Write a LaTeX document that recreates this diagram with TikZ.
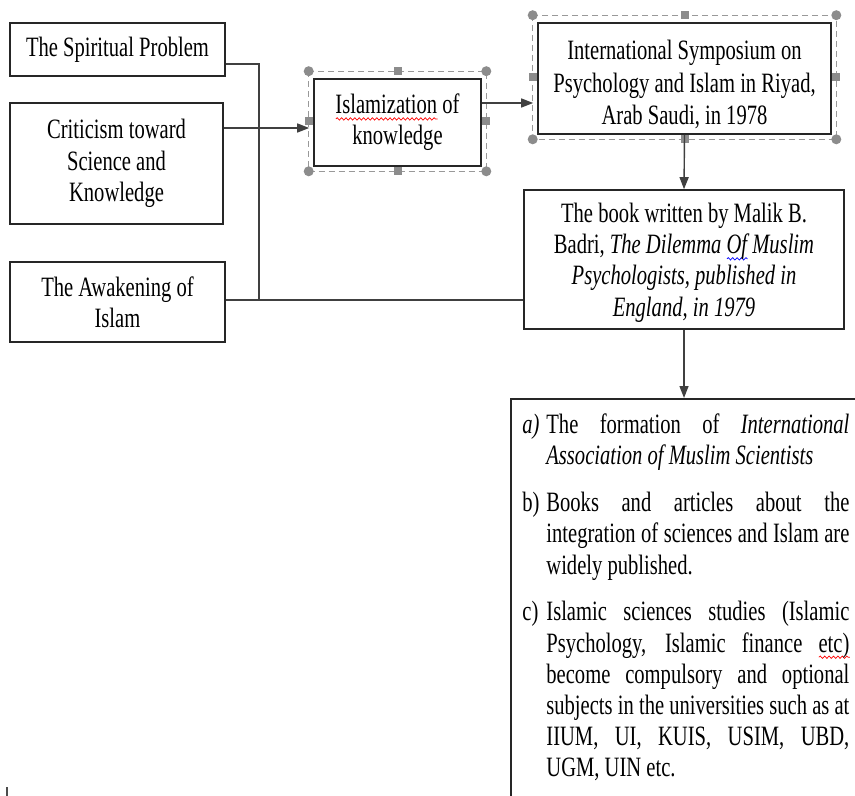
\documentclass[tikz,border=0pt]{standalone}
\usepackage{fontspec}
\setmainfont[FakeStretch=0.735]{Liberation Serif}
\usetikzlibrary{decorations.pathmorphing}
\usetikzlibrary{positioning}
\usetikzlibrary{calc}
\usetikzlibrary{arrows.meta}

% spell-check wave under a word
\newsavebox{\wavebox}
\newlength{\wavelen}
\newcommand{\wavy}[2]{\sbox{\wavebox}{#2}\setlength{\wavelen}{\wd\wavebox}%
  \rlap{\tikz[baseline=0pt]\draw[#1, line width=0.35pt, decorate, decoration={snake, amplitude=0.6pt, segment length=2.2pt}] (0pt,-2.6pt) -- (\wavelen,-2.6pt);}\usebox{\wavebox}}

% dashed frame with grab handles round a selected box
\newcommand{\selhandles}[1]{%
  \path ([shift={(-2.25pt,3.5pt)}]#1.north west) coordinate (#1nw)
        ([shift={(2.25pt,-2.25pt)}]#1.south east) coordinate (#1se);
  \draw[selframe] (#1nw) rectangle (#1se);
  \foreach \hp in {(#1nw), (#1se), (#1nw -| #1se), (#1nw |- #1se)}
    \fill[handlecol] \hp circle (2.5pt);
  \foreach \hp in {($(#1nw)!.5!(#1nw -| #1se)$), ($(#1nw |- #1se)!.5!(#1se)$),
                   ($(#1nw)!.5!(#1nw |- #1se)$), ($(#1nw -| #1se)!.5!(#1se)$)}
    \node[sqhandle] at \hp {};
}

\begin{document}
\begin{tikzpicture}[x=0.5pt, y=-0.5pt,
  every node/.style={font=\fontsize{14}{15.6}\selectfont},
  box/.style={draw=black!85, line width=0.8pt, inner sep=0pt, align=center},
  link/.style={draw=black!75, line width=0.7pt},
  arr/.style={link, -{Triangle[length=6pt, width=4.5pt]}},
  selframe/.style={draw=black!40, densely dashed, line width=0.4pt},
  handlecol/.style={fill=black!45},
  sqhandle/.style={rectangle, fill=black!45, inner sep=0pt, minimum size=4pt}]

  \useasboundingbox (0,0) rectangle (855,796);
  \clip (0,0) rectangle (855,796);

  % the three causes
  \node[box, minimum width=107.5pt, minimum height=26.5pt] (spirit) at (117.5,49.5) {The Spiritual Problem};
  \node[box, minimum width=106.5pt, minimum height=60.5pt] (critic) at (116.5,163.5) {Criticism toward\\ Science and\\ Knowledge};
  \node[box, minimum width=107.5pt, minimum height=40pt] (awaken) at (117.5,302) {The Awakening of\\ Islam};

  \node[box, minimum width=83.5pt, minimum height=43.5pt] (islam) at (397.5,122.5) {\wavy{red}{Islamization} of\\ knowledge};
  \node[box, minimum width=146.5pt, minimum height=55.5pt] (sympo) at (684.5,78.5) {};
  \node[align=center, inner sep=0pt, font=\fontsize{14}{16.2}\selectfont] (sympotext) at ($(sympo)+(0,6)$) {International Symposium on\\ Psychology and Islam in Riyad,\\ Arab Saudi, in 1978};
  \node[box, minimum width=160pt, minimum height=69.5pt] (book) at (684,259.5) {};
  \node[align=center, inner sep=0pt] (booktext) at ($(book)+(0,3)$) {The book written by Malik B.\\ Badri, {\itshape The Dilemma \wavy{blue}{Of} Muslim}\\ {\itshape Psychologists, published in}\\ {\itshape England, in 1979}};

  \selhandles{islam}
  \selhandles{sympo}

  % outcomes
  \node[draw=black!85, line width=0.8pt, anchor=north west, minimum width=250pt, minimum height=250pt] (effects) at (510,398) {};
  \node[anchor=north west, inner sep=0pt] (items) at (522,413.5) {\begin{minipage}[t]{163.5pt}
    \setlength{\parindent}{0pt}\setlength{\parskip}{7.8pt}%
    \hangindent=12pt\hangafter=1\makebox[12pt][l]{\textit{a)}}The formation of \textit{International}\linebreak
    \textit{Association of Muslim Scientists}\par
    \hangindent=12pt\hangafter=1\makebox[12pt][l]{b)}Books and articles about the\linebreak
    integration of sciences and Islam are\linebreak widely published.\par
    \hangindent=12pt\hangafter=1\makebox[12pt][l]{c)}Islamic sciences studies (Islamic\linebreak
    Psychology, Islamic finance \wavy{red}{etc)}\linebreak become compulsory and optional\linebreak
    subjects in the universities such as at\linebreak IIUM, UI, KUIS, USIM, UBD,\linebreak UGM, UIN etc.\par
  \end{minipage}};

  % connectors
  \coordinate (busT) at (259,64);
  \coordinate (busB) at (259,300);
  \coordinate (lvlA) at (0,128);
  \coordinate (lvlB) at (0,103);
  \draw[link] (spirit.east |- busT) -- (busT) -- (busB);
  \draw[link] (awaken.east |- busB) -- (busB -| book.west);
  \draw[arr] (critic.east |- lvlA) -- ($(islam.west |- lvlA)+(-2pt,0)$);
  \draw[arr] (islam.east |- lvlB) -- ($(sympo.west |- lvlB)+(-2pt,0)$);
  \draw[arr] (sympo.south) -- (book.north);
  \draw[arr] (book.south) -- (book.south |- effects.north);

  \draw[black!70, line width=0.6pt] (7,787) -- (7,796);
\end{tikzpicture}
\end{document}
